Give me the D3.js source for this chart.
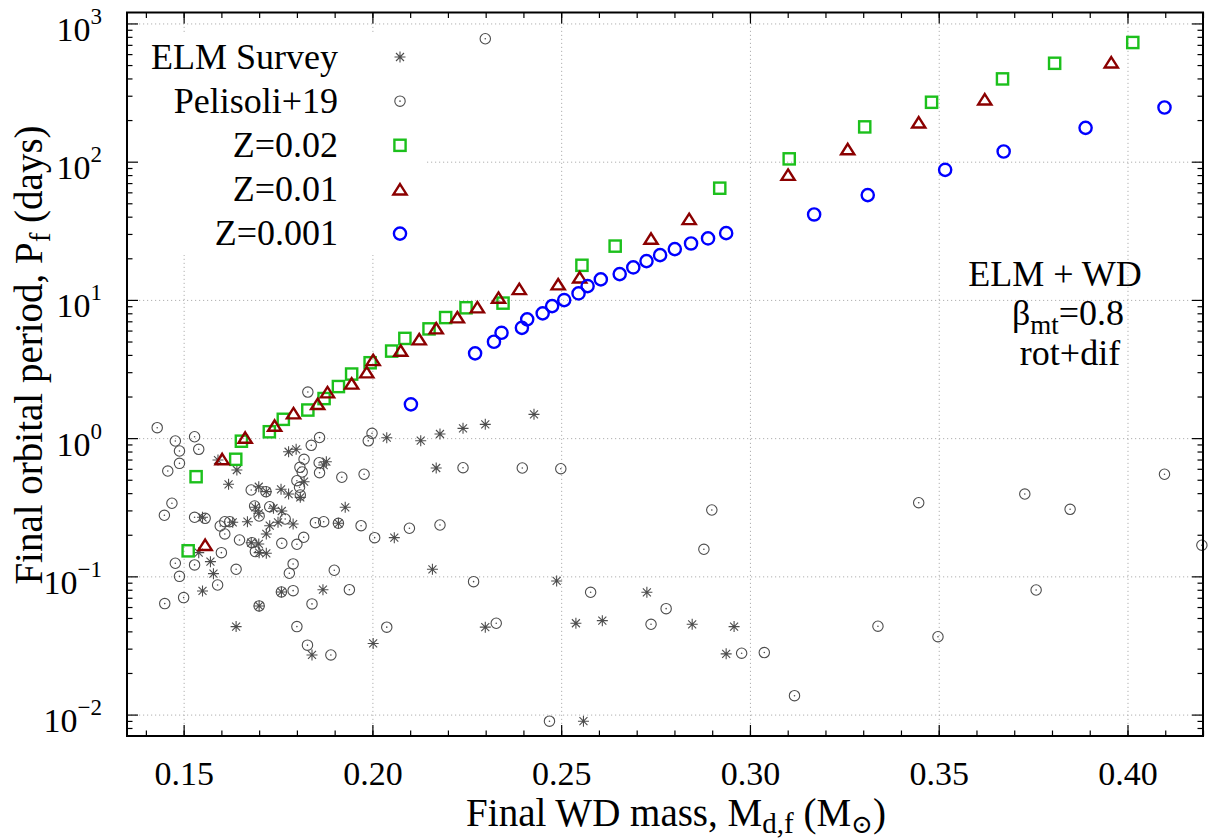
<!DOCTYPE html>
<html>
<head>
<meta charset="utf-8">
<script src="https://cdn.jsdelivr.net/npm/d3@7"></script>
<style>
  body { margin: 0; background: #fff; }
  #chart, #chart text { font-family: 'Liberation Serif', 'Times New Roman', Times, 'DejaVu Serif', serif !important; }
  #chart text { fill: #000; }
</style>
</head>
<body>
<svg id="chart" width="1214" height="839" font-family="Liberation Serif"></svg>
<script>
// Axis ranges and tick values
const massRange = [0.135, 0.42];
const periodRange = [0.007, 1200];
const massMajorTicks = [0.15, 0.20, 0.25, 0.30, 0.35, 0.40];
const massMinorTicks = d3.range(14, 43).map(v => v / 100);
const periodMajorTicks = [0.01, 0.1, 1, 10, 100, 1000];
const periodMinorTicks = [-3, -2, -1, 0, 1, 2].flatMap(e => d3.range(2, 10).map(k => k * Math.pow(10, e)))
  .filter(v => v > periodRange[0] && v < periodRange[1]);

// Observed systems: [final WD mass (Msun), orbital period (days)]
const elmSurvey = [
  [0.1591,0.694],[0.1641,0.588],[0.1619,0.4634],[0.1699,0.445],[0.1719,0.410],[0.1758,0.4265],
  [0.1778,0.394],[0.1819,0.484],[0.1778,0.797],[0.1798,0.830],[0.1871,0.639],[0.1878,0.675],
  [0.1928,0.316],[0.1809,0.373],[0.1690,0.316],[0.1699,0.286],[0.1738,0.311],[0.1760,0.297],
  [0.1550,0.2675],[0.1630,0.246],[0.1669,0.2485],[0.1728,0.2326],[0.1750,0.246],[0.1790,0.239],
  [0.1719,0.2026],[0.1910,0.242],[0.1679,0.1752],[0.1699,0.1715],[0.1700,0.1484],[0.1719,0.1469],
  [0.1540,0.1484],[0.1571,0.1278],[0.1579,0.1046],[0.1550,0.0784],[0.1759,0.0771],[0.1700,0.0611],
  [0.1639,0.0433],[0.1869,0.0801],[0.1840,0.0270],[0.2002,0.0327],[0.2038,1.007],[0.2128,0.958],
  [0.2179,1.071],[0.2240,1.177],[0.2299,1.258],[0.2428,1.486],[0.2169,0.608],[0.2058,0.1905],
  [0.2159,0.1125],[0.2488,0.0926],[0.2299,0.0429],[0.2539,0.0458],[0.2609,0.0478],[0.2727,0.0767],
  [0.2847,0.0450],[0.2559,0.00896],[0.2958,0.0433],[0.2937,0.0275]
];

const pelisoli19 = [
  [0.1430,1.19],[0.1529,1.023],[0.1478,0.953],[0.1540,0.830],[0.1489,0.807],[0.1489,0.657],
  [0.1458,0.578],[0.1469,0.338],[0.1449,0.2765],[0.1529,0.2675],[0.1557,0.263],[0.1609,0.2485],
  [0.1622,0.2485],[0.1597,0.2314],[0.1609,0.2026],[0.1648,0.1833],[0.1600,0.1484],[0.1478,0.1244],
  [0.1529,0.121],[0.1489,0.100],[0.1639,0.1125],[0.1829,2.154],[0.1860,1.010],[0.1838,0.887],
  [0.1819,0.703],[0.1808,0.615],[0.1814,0.569],[0.1859,0.664],[0.1860,0.562],[0.1919,0.521],
  [0.1978,0.548],[0.1999,1.083],[0.1989,0.956],[0.1679,0.4215],[0.1718,0.410],[0.1800,0.492],
  [0.1807,0.441],[0.1809,0.388],[0.1688,0.323],[0.1700,0.2734],[0.1728,0.319],[0.1769,0.260],
  [0.1818,0.1917],[0.1849,0.2445],[0.1871,0.2485],[0.1910,0.242],[0.1970,0.2326],[0.2006,0.1905],
  [0.1681,0.1752],[0.1690,0.151],[0.1760,0.1735],[0.1800,0.1706],[0.1790,0.123],[0.1780,0.1053],
  [0.1899,0.1107],[0.1450,0.0635],[0.1500,0.0702],[0.1590,0.0866],[0.1790,0.0788],[0.1759,0.0771],
  [0.1700,0.0611],[0.1840,0.0632],[0.1939,0.0801],[0.1800,0.0433],[0.1828,0.0318],[0.1890,0.0270],
  [0.2098,0.2228],[0.2179,0.2353],[0.2240,0.611],[0.2397,0.608],[0.2499,0.601],[0.2268,0.0916],
  [0.2038,0.0429],[0.2328,0.0458],[0.2578,0.0767],[0.2778,0.0584],[0.2738,0.0450],[0.2469,0.00896],
  [0.2899,0.302],[0.2878,0.157],[0.3447,0.341],[0.3728,0.394],[0.3848,0.3055],[0.4098,0.548],
  [0.4197,0.168],[0.3758,0.0797],[0.3339,0.0436],[0.3498,0.0366],[0.2978,0.0278],[0.3038,0.0281],
  [0.3118,0.0137],[0.2299,775]
];

// Model tracks, one per metallicity
const modelZ002 = [
  [0.1512,0.153],[0.1533,0.526],[0.1638,0.703],[0.1653,0.950],[0.1727,1.112],[0.1764,1.368],
  [0.1829,1.597],[0.1872,1.933],[0.1910,2.361],[0.1945,2.908],[0.1994,3.510],[0.2051,4.264],
  [0.2086,5.267],[0.2150,6.17],[0.2194,7.45],[0.2248,8.77],[0.2346,9.48],[0.2555,17.8],
  [0.2643,24.5],[0.2920,64.3],[0.3104,104.8],[0.3304,178.5],[0.3481,269],[0.3669,397],
  [0.3807,515],[0.4014,728]
];
const modelZ001 = [
  [0.1557,0.1687],[0.1602,0.704],[0.1663,1.007],[0.1741,1.229],[0.1791,1.511],[0.1855,1.764],
  [0.1881,2.144],[0.1945,2.478],[0.1985,2.99],[0.2002,3.67],[0.2075,4.285],[0.2124,5.18],
  [0.2169,6.22],[0.2225,7.47],[0.2278,8.83],[0.2334,10.36],[0.2389,11.97],[0.2492,12.95],
  [0.2549,14.54],[0.2738,27.7],[0.2839,38.4],[0.3101,80.3],[0.3259,123],[0.3447,192],
  [0.3622,282],[0.3957,522]
];
const modelZ0001 = [
  [0.2102,1.756],[0.2272,4.105],[0.2322,4.98],[0.2342,5.78],[0.2396,6.28],[0.2410,7.23],
  [0.2451,7.99],[0.2476,9.02],[0.2508,9.97],[0.2546,11.14],[0.2570,12.59],[0.2605,14.07],
  [0.2655,15.37],[0.2691,17.18],[0.2726,19.08],[0.2762,21.08],[0.2801,23.3],[0.2844,25.6],
  [0.2889,27.85],[0.2937,30.4],[0.3170,41.5],[0.3312,57.3],[0.3517,87.3],[0.3672,118.5],
  [0.3889,175.6],[0.4098,246.6]
];

const legendLabels = ["ELM Survey", "Pelisoli+19", "Z=0.02", "Z=0.01", "Z=0.001"];

// ---- layout ----
const FONT = "'Liberation Serif', 'Times New Roman', Times, 'DejaVu Serif', serif";
const plot = { left: 127, right: 1203, top: 12.5, bottom: 736 };
const pw = plot.right - plot.left, ph = plot.bottom - plot.top;
const x = d3.scaleLinear().domain(massRange).range([plot.left, plot.right]);
const y = d3.scaleLog().domain(periodRange).range([plot.bottom, plot.top]);
const svg = d3.select("#chart");

const GRAY = "#4d4d4d", GREEN = "#1cc01c", DARKRED = "#8b0000", BLUE = "#0000ff";

// marker drawers (pixel units, centred on the point)
const markers = {
  asterisk: g => g.append("path").attr("d", "M-5.5,0H5.5M0,-5.5V5.5M-4,-4L4,4M-4,4L4,-4")
    .attr("fill", "none").attr("stroke", GRAY).attr("stroke-width", 1.1),
  dotCircle: g => {
    g.append("circle").attr("r", 5.2).attr("fill", "none").attr("stroke", GRAY).attr("stroke-width", 1.1);
    g.append("circle").attr("r", 0.8).attr("fill", GRAY);
  },
  square: g => g.append("rect").attr("x", -5.6).attr("y", -5.6).attr("width", 11.2).attr("height", 11.2)
    .attr("fill", "none").attr("stroke", GREEN).attr("stroke-width", 2.4),
  triangle: g => g.append("path").attr("d", "M0,-5.4L6.6,5L-6.6,5Z")
    .attr("fill", "none").attr("stroke", DARKRED).attr("stroke-width", 2.4).attr("stroke-linejoin", "miter"),
  ring: g => g.append("circle").attr("r", 6.1).attr("fill", "none").attr("stroke", BLUE).attr("stroke-width", 2.4)
};

// ---- grid ----
const gridStyle = g => {
  g.select(".domain").remove();
  g.selectAll(".tick line").attr("stroke", "#b0b0b0").attr("stroke-width", 1).attr("stroke-dasharray", "1.2,2.8");
};
svg.append("g").attr("transform", `translate(0,${plot.bottom})`)
  .call(d3.axisBottom(x).tickValues(massMajorTicks).tickSize(-ph).tickFormat(""))
  .call(gridStyle);
svg.append("g").attr("transform", `translate(${plot.left},0)`)
  .call(d3.axisLeft(y).tickValues(periodMajorTicks).tickSize(-pw).tickFormat(""))
  .call(gridStyle);

// ---- data ----
function drawSeries(data, marker) {
  svg.append("g").selectAll("g").data(data).join("g")
    .attr("transform", d => `translate(${x(d[0])},${y(d[1])})`)
    .each(function () { marker(d3.select(this)); });
}
drawSeries(elmSurvey, markers.asterisk);
drawSeries(pelisoli19, markers.dotCircle);
drawSeries(modelZ002, markers.square);
drawSeries(modelZ001, markers.triangle);
drawSeries(modelZ0001, markers.ring);

// ---- key (opaque) ----
svg.append("rect").attr("x", 128.5).attr("y", 33).attr("width", 297).attr("height", 222).attr("fill", "#fff");
const keyMarkers = [markers.asterisk, markers.dotCircle, markers.square, markers.triangle, markers.ring];
legendLabels.forEach((label, i) => {
  const cy = 57 + i * 44.15;
  svg.append("text").attr("x", 338).attr("y", cy + 11.5).attr("text-anchor", "end")
    .attr("font-size", 36).text(label);
  const g = svg.append("g").attr("transform", `translate(400,${cy})`);
  keyMarkers[i](g);
});

// ---- frame and ticks ----
const tickStyle = g => {
  g.select(".domain").remove();
  g.selectAll(".tick line").attr("stroke", "#000").attr("stroke-width", 1.2);
  g.attr("font-family", FONT).attr("font-size", null);
};
// bottom
svg.append("g").attr("transform", `translate(0,${plot.bottom})`)
  .call(d3.axisBottom(x).tickValues(massMinorTicks).tickSize(-5.5).tickFormat("")).call(tickStyle);
svg.append("g").attr("transform", `translate(0,${plot.bottom})`)
  .call(d3.axisBottom(x).tickValues(massMajorTicks).tickSize(-11).tickPadding(25).tickFormat(d3.format(".2f")))
  .call(tickStyle)
  .call(g => g.selectAll(".tick text").attr("font-size", 34).attr("fill", "#000"));
// top (mirror)
svg.append("g").attr("transform", `translate(0,${plot.top})`)
  .call(d3.axisTop(x).tickValues(massMinorTicks).tickSize(-5.5).tickFormat("")).call(tickStyle);
svg.append("g").attr("transform", `translate(0,${plot.top})`)
  .call(d3.axisTop(x).tickValues(massMajorTicks).tickSize(-11).tickFormat("")).call(tickStyle);
// left
svg.append("g").attr("transform", `translate(${plot.left},0)`)
  .call(d3.axisLeft(y).tickValues(periodMinorTicks).tickSize(-5.5).tickFormat("")).call(tickStyle);
svg.append("g").attr("transform", `translate(${plot.left},0)`)
  .call(d3.axisLeft(y).tickValues(periodMajorTicks).tickSize(-11).tickPadding(25))
  .call(tickStyle)
  .call(g => g.selectAll(".tick text").each(function (d) {
    const t = d3.select(this).text(null).attr("dy", "17").attr("font-size", 34).attr("fill", "#000");
    const e = Math.round(Math.log10(d));
    t.append("tspan").text("10");
    t.append("tspan").attr("font-size", 23).attr("dy", -17).text(String(e).replace("-", "\u2212"));
  }));
// right (mirror)
svg.append("g").attr("transform", `translate(${plot.right},0)`)
  .call(d3.axisRight(y).tickValues(periodMinorTicks).tickSize(-5.5).tickFormat("")).call(tickStyle);
svg.append("g").attr("transform", `translate(${plot.right},0)`)
  .call(d3.axisRight(y).tickValues(periodMajorTicks).tickSize(-11).tickFormat("")).call(tickStyle);

svg.append("rect").attr("x", plot.left).attr("y", plot.top).attr("width", pw).attr("height", ph)
  .attr("fill", "none").attr("stroke", "#000").attr("stroke-width", 2);

// ---- axis titles ----
const xt = svg.append("text").attr("x", 676).attr("y", 826).attr("text-anchor", "middle").attr("font-size", 39);
xt.append("tspan").text("Final WD mass, M");
xt.append("tspan").attr("font-size", 29).attr("dy", 7).text("d,f");
xt.append("tspan").attr("dy", -7).text(" (M");
xt.append("tspan").attr("font-size", 26).attr("dy", 7).text("\u2299");
xt.append("tspan").attr("dy", -7).text(")");

const yt = svg.append("text").attr("transform", "translate(42,355) rotate(-90)")
  .attr("text-anchor", "middle").attr("font-size", 39);
yt.append("tspan").text("Final orbital period, P");
yt.append("tspan").attr("font-size", 29).attr("dy", 8).text("f");
yt.append("tspan").attr("dy", -8).text(" (days)");

// ---- annotation ----
svg.append("text").attr("x", 1055).attr("y", 286).attr("text-anchor", "middle").attr("font-size", 36).text("ELM + WD");
const beta = svg.append("text").attr("x", 1068).attr("y", 325).attr("text-anchor", "middle").attr("font-size", 36);
beta.append("tspan").text("\u03b2");
beta.append("tspan").attr("font-size", 27).attr("dy", 9).text("mt");
beta.append("tspan").attr("dy", -9).text("=0.8");
svg.append("text").attr("x", 1070).attr("y", 365).attr("text-anchor", "middle").attr("font-size", 36).text("rot+dif");

// apply the serif family to every text element explicitly
svg.selectAll("text").attr("font-family", FONT).style("font-family", FONT);
</script>
</body>
</html>
